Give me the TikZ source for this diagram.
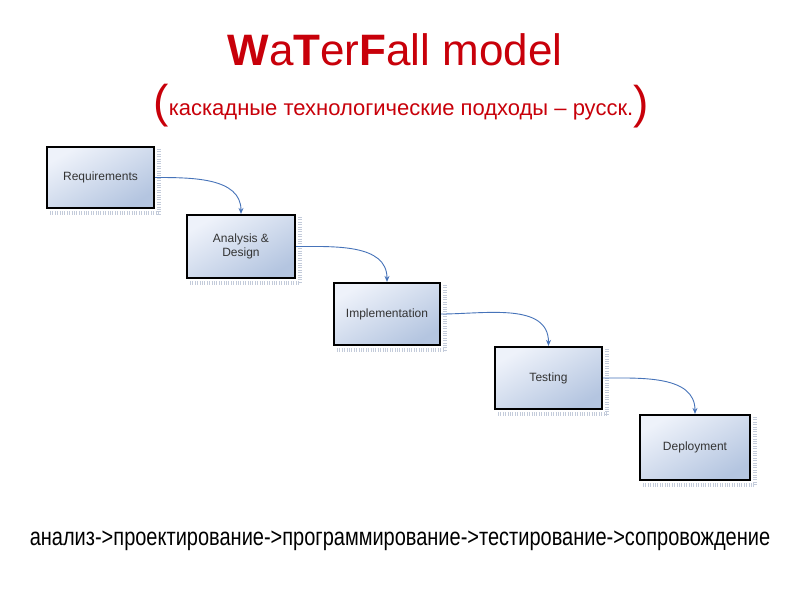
\documentclass[tikz,border=0pt]{standalone}
\usepackage{fontspec}
\setmainfont{Liberation Sans}
\usetikzlibrary{arrows.meta}
\definecolor{titlered}{RGB}{200,0,10}
\definecolor{boxtop}{RGB}{238,242,250}
\definecolor{boxbot}{RGB}{180,197,224}
\definecolor{arrblue}{RGB}{70,115,185}
\definecolor{dotgray}{RGB}{195,203,218}
\tikzset{
  stage/.style={draw=black, line width=2.2pt, rectangle, inner sep=0pt,
    top color=boxtop, bottom color=boxbot, shading angle=30,
    font=\fontsize{12}{14}\selectfont, text=black!80, align=center},
  flow/.style={draw=arrblue, line width=0.9pt, -{Stealth[length=6pt,width=5pt]}},
  rul/.style={draw=dotgray, line width=4pt, dash pattern=on 0.8pt off 1.6pt}
}
\begin{document}
\begin{tikzpicture}[x=1pt,y=-1pt]
\useasboundingbox[fill=white] (0,0) rectangle (800,600);
% title
\node[text=titlered, font=\fontsize{44}{48}\selectfont, anchor=center] (title) at (395,50)
  {\textbf{W}a\textbf{T}er\textbf{F}all model};
\node[text=titlered, anchor=center] (subtitle) at (401,106)
  {\raisebox{-0.14em}{\fontsize{46}{50}\selectfont(}\fontsize{22}{26}\selectfont каскадные технологические подходы – русск.\raisebox{-0.14em}{\fontsize{46}{50}\selectfont)}};
% rulers (dotted texture)
\foreach \l/\t/\r/\b in {47/147/154/208, 187/215/295/278, 334/283/440/345, 495/347/602/409, 640/415/750/480}{
  \draw[rul] (\r+5,\t+2) -- (\r+5,\b+6);
  \draw[rul] (\l+3,\b+5) -- (\r+5,\b+5);
}
% boxes
\node[stage, minimum width=107pt, minimum height=61pt] (req) at (100.5,177.5) {Requirements};
\node[stage, minimum width=108pt, minimum height=63pt] (ana) at (241,246.5) {Analysis \&\\Design};
\node[stage, minimum width=106pt, minimum height=62pt] (imp) at (387,314) {Implementation};
\node[stage, minimum width=107pt, minimum height=62pt] (tst) at (548.5,378) {Testing};
\node[stage, minimum width=110pt, minimum height=65pt] (dep) at (695,447.5) {Deployment};
% connectors
\draw[flow] (req.east) to[out=0,in=90] (ana.north);
\draw[flow] (ana.east) to[out=0,in=90] (imp.north);
\draw[flow] (imp.east) to[out=0,in=90] (tst.north);
\draw[flow] (tst.east) to[out=0,in=90] (dep.north);
% bottom line
\node[text=black, anchor=center] (chain) at (400,541)
  {\scalebox{0.8}[1]{\fontsize{25}{28}\selectfont анализ->проектирование->программирование->тестирование->сопровождение}};
\end{tikzpicture}
\end{document}
